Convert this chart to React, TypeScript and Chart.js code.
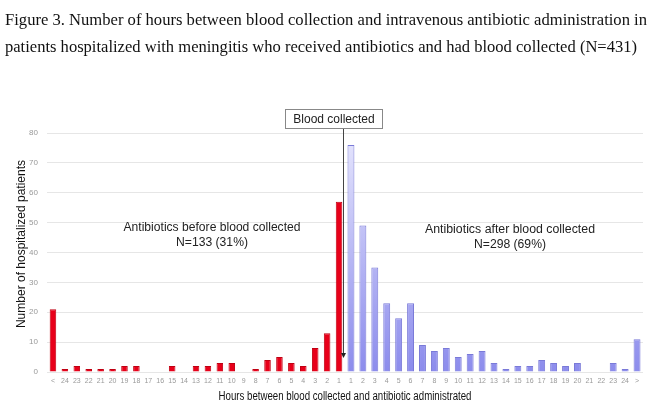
import React, { useEffect, useRef } from "react";
import { Chart, registerables } from "chart.js";

Chart.register(...registerables);

const beforeLabels = ["<", "24", "23", "22", "21", "20", "19", "18", "17", "16", "15", "14", "13", "12", "11", "10", "9", "8", "7", "6", "5", "4", "3", "2", "1"];
const afterLabels = ["1", "2", "3", "4", "5", "6", "7", "8", "9", "10", "11", "12", "13", "14", "15", "16", "17", "18", "19", "20", "21", "22", "23", "24", ">"];
const beforeValues = [21, 1, 2, 1, 1, 1, 2, 2, 0, 0, 2, 0, 2, 2, 3, 3, 0, 1, 4, 5, 3, 2, 8, 13, 57];
const afterValues = [76, 49, 35, 23, 18, 23, 9, 7, 8, 5, 6, 7, 3, 1, 2, 2, 4, 3, 2, 3, 0, 0, 3, 1, 11];

const titleLines = [
  "Figure 3. Number of hours between blood collection and intravenous antibiotic administration in",
  "patients hospitalized with meningitis who received antibiotics and had blood collected (N=431)",
];
const yTitle = "Number of hospitalized patients";
const xTitle = "Hours between blood collected and antibiotic administrated";
const noteBefore = ["Antibiotics before blood collected", "N=133 (31%)"];
const noteAfter = ["Antibiotics after blood collected", "N=298 (69%)"];
const markerText = "Blood collected";

function fitText(ctx: CanvasRenderingContext2D, text: string, x: number, y: number, width: number, align: "left" | "center") {
  const w = ctx.measureText(text).width;
  const s = width / w;
  ctx.save();
  ctx.translate(x, y);
  ctx.scale(s, 1);
  ctx.textAlign = align;
  ctx.fillText(text, 0, 0);
  ctx.restore();
}

export default function App() {
  const ref = useRef<HTMLCanvasElement | null>(null);

  useEffect(() => {
    const canvas = ref.current;
    if (!canvas) return;
    const labels = [...beforeLabels, ...afterLabels];
    const nB = beforeLabels.length;
    const dataBefore = labels.map((_, i) => (i < nB ? beforeValues[i] : null));
    const dataAfter = labels.map((_, i) => (i >= nB ? afterValues[i - nB] : null));

    const annot = {
      id: "annot",
      afterDraw(chart: any) {
        const ctx = chart.ctx;
        const x = chart.scales.x;
        const y = chart.scales.y;
        const ca = chart.chartArea;
        ctx.save();
        // title
        ctx.fillStyle = "#111";
        ctx.font = '17px "Liberation Serif", "Times New Roman", serif';
        ctx.textBaseline = "alphabetic";
        fitText(ctx, titleLines[0], 5, 25, 642, "left");
        fitText(ctx, titleLines[1], 5, 52, 632, "left");
        // notes
        ctx.fillStyle = "#222";
        ctx.font = '12px "Liberation Sans", Arial, sans-serif';
        ctx.textAlign = "center";
        ctx.textBaseline = "middle";
        fitText(ctx, noteBefore[0], 212, 228, 177, "center");
        fitText(ctx, noteBefore[1], 212, 243, 72, "center");
        fitText(ctx, noteAfter[0], 510, 230, 170, "center");
        fitText(ctx, noteAfter[1], 510, 245, 72, "center");
        // axis titles
        ctx.font = '12px "Liberation Sans", Arial, sans-serif';
        ctx.fillStyle = "#111";
        fitText(ctx, xTitle, (ca.left + ca.right) / 2, 397, 253, "center");
        ctx.save();
        ctx.translate(22, 244);
        ctx.rotate(-Math.PI / 2);
        ctx.textAlign = "center";
        ctx.fillText(yTitle, 0, 0);
        ctx.restore();
        // marker
        const lx = Math.round((x.getPixelForValue(nB - 1) + x.getPixelForValue(nB)) / 2) - 1.5;
        ctx.strokeStyle = "#444";
        ctx.lineWidth = 1;
        ctx.beginPath();
        ctx.moveTo(lx, 128);
        ctx.lineTo(lx, y.getPixelForValue(5.5));
        ctx.stroke();
        const ay = y.getPixelForValue(5);
        ctx.fillStyle = "#222";
        ctx.beginPath();
        ctx.moveTo(lx - 2.5, ay - 4);
        ctx.lineTo(lx + 2.5, ay - 4);
        ctx.lineTo(lx, ay + 1);
        ctx.closePath();
        ctx.fill();
        ctx.fillStyle = "#fff";
        ctx.strokeStyle = "#888";
        ctx.fillRect(285, 109, 98, 20);
        ctx.strokeRect(285.5, 109.5, 97, 19);
        ctx.fillStyle = "#222";
        ctx.font = '12px "Liberation Sans", Arial, sans-serif';
        ctx.textAlign = "center";
        ctx.fillText(markerText, 334, 119.5);
        ctx.restore();
      },
    };

    const blueFill = (c: any) => {
      const ca = c.chart.chartArea;
      if (!ca) return "#a8a8f0";
      const g = c.chart.ctx.createLinearGradient(0, ca.top, 0, ca.bottom);
      g.addColorStop(0, "#e6e6fd");
      g.addColorStop(1, "#8c8cec");
      return g;
    };

    const chart = new Chart(canvas, {
      type: "bar",
      data: {
        labels,
        datasets: [
          {
            data: dataBefore,
            backgroundColor: "#e8001a",
            borderColor: "#c00012",
            borderWidth: 1,
            barPercentage: 0.55,
            categoryPercentage: 1,
            grouped: false,
          } as any,
          {
            data: dataAfter,
            backgroundColor: blueFill,
            borderColor: "#7a7ad8",
            borderWidth: 1,
            barPercentage: 0.58,
            categoryPercentage: 1,
            grouped: false,
          } as any,
        ],
      },
      options: {
        animation: false,
        responsive: false,
        maintainAspectRatio: false,
        layout: { padding: { top: 133, right: 7, left: 0, bottom: 0 } },
        plugins: { legend: { display: false }, tooltip: { enabled: false }, title: { display: false } },
        scales: {
          x: {
            grid: { display: false, drawTicks: false },
            border: { display: false },
            ticks: {
              autoSkip: false,
              maxRotation: 0,
              minRotation: 0,
              color: "#999",
              font: { size: 7, family: '"Liberation Sans", Arial, sans-serif' },
              padding: 5,
            },
            afterFit: (s: any) => {
              s.height = 39;
            },
          },
          y: {
            min: 0,
            max: 80,
            border: { display: false },
            grid: { color: "#e6e6e6", drawTicks: false },
            ticks: {
              stepSize: 10,
              color: "#999",
              font: { size: 8, family: '"Liberation Sans", Arial, sans-serif' },
              padding: 9,
            },
            afterFit: (s: any) => {
              s.width = 47;
            },
          },
        },
      },
      plugins: [annot],
    } as any);
    return () => chart.destroy();
  }, []);

  return (
    <div style={{ position: "fixed", left: 0, top: 0, width: 650, height: 411, background: "#fff" }}>
      <canvas ref={ref} width={650} height={411} style={{ display: "block", width: 650, height: 411 }} />
    </div>
  );
}
